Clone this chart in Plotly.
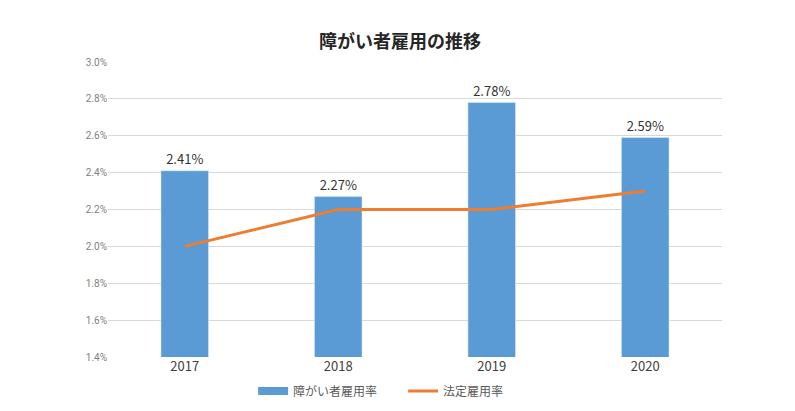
import plotly.graph_objects as go

years = ["2017", "2018", "2019", "2020"]
employment_rate = [0.0241, 0.0227, 0.0278, 0.0259]
legal_rate = [0.0200, 0.0220, 0.0220, 0.0230]
title_text = "障がい者雇用の推移"
bar_name = "障がい者雇用率"
line_name = "法定雇用率"

BLUE = "#5B9BD5"
ORANGE = "#ED7D31"
FONT = "Noto Sans CJK JP"

fig = go.Figure()
fig.add_trace(go.Bar(
    x=years, y=employment_rate, name=bar_name, marker_color=BLUE,
    width=0.31, showlegend=False,
    texttemplate="%{y:.2%}", textposition="outside",
    textfont=dict(size=13, color="#333333", family=FONT),
    cliponaxis=False,
))
# legend proxy for bar (wide rectangle)
fig.add_trace(go.Scatter(
    x=[None], y=[None], mode="lines", name=bar_name,
    line=dict(color=BLUE, width=8),
))
fig.add_trace(go.Scatter(
    x=years, y=legal_rate, mode="lines", name=line_name,
    line=dict(color=ORANGE, width=3),
))

fig.update_layout(
    width=795, height=411,
    margin=dict(l=100, r=81, t=54, b=62, autoexpand=False),
    paper_bgcolor="white", plot_bgcolor="white",
    font=dict(family=FONT, color="#595959"),
    title=dict(text="<b>" + title_text + "</b>", x=392 / 795, xanchor="center",
               xref="container", yref="container",
               y=1 - 34 / 411, yanchor="middle",
               font=dict(size=18, color="#262626", family=FONT)),
    xaxis=dict(showgrid=False, showline=False, ticks="",
               tickfont=dict(size=13, color="#404040", family=FONT)),
    yaxis=dict(range=[0.014, 0.030], dtick=0.002, tickformat=".1%",
               showgrid=True, gridcolor="#D9D9D9", gridwidth=1,
               zeroline=False, showline=False, ticks="",
               tickfont=dict(size=10, color="#808080", family="Roboto")),
    legend=dict(orientation="h", x=0.497, xanchor="center",
                xref="container", yref="container",
                y=1 - 383 / 411, yanchor="middle",
                font=dict(size=12, color="#595959", family=FONT),
                entrywidth=105, entrywidthmode="pixels",
                tracegroupgap=0),
    bargap=0.69,
)

fig.write_html("out.html")
